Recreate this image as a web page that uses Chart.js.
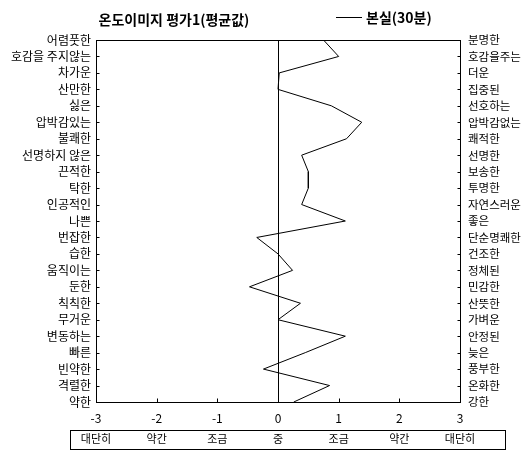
<!DOCTYPE html>
<html><head><meta charset="utf-8">
<script src="https://cdn.jsdelivr.net/npm/chart.js@4/dist/chart.umd.min.js"></script>
<style>html,body{margin:0;padding:0;background:#fff}#wrap{width:529px;height:451px}</style>
</head><body><div id="wrap"><canvas id="c" width="529" height="451"></canvas></div>
<script>
const chartTitle = '온도이미지 평가1(평균값)';
const seriesName = '본실(30분)';
const leftLabels = ['어렴풋한','호감을 주지않는','차가운','산만한','싫은','압박감있는','불쾌한','선명하지 않은','끈적한','탁한','인공적인','나쁜','번잡한','습한','움직이는','둔한','칙칙한','무거운','변동하는','빠른','빈약한','격렬한','약한'];
const rightLabels = ['분명한','호감을주는','더운','집중된','선호하는','압박감없는','쾌적한','선명한','보송한','투명한','자연스러운','좋은','단순명쾌한','건조한','정체된','민감한','산뜻한','가벼운','안정된','늦은','풍부한','온화한','강한'];
const values = [0.75,1.0,0.02,0.0,0.88,1.38,1.13,0.39,0.5,0.5,0.39,1.11,-0.35,0.0,0.24,-0.47,0.37,0.0,1.11,0.45,-0.24,0.85,0.26];
const xTicks = [-3,-2,-1,0,1,2,3];
const degreeWords = ['대단히','약간','조금','중','조금','약간','대단히'];

const FONT = '"Noto Sans CJK KR", "Noto Sans", sans-serif';

const deco = {
  id: 'deco',
  afterDraw(chart) {
    const ctx = chart.ctx, a = chart.chartArea;
    ctx.save();
    ctx.strokeStyle = '#000'; ctx.lineWidth = 1;
    const L = Math.round(a.left) + 0.5, T = Math.round(a.top) + 0.5, R = Math.round(a.right) + 0.5, B = Math.round(a.bottom) + 0.5;
    ctx.strokeRect(L, T, R - L, B - T);
    const y = chart.scales.y, x = chart.scales.x;
    ctx.beginPath();
    for (let i = 0; i < leftLabels.length; i++) {
      const py = Math.round(y.getPixelForValue(i)) + 0.5;
      ctx.moveTo(L, py); ctx.lineTo(L + 3, py);
      ctx.moveTo(R, py); ctx.lineTo(R - 3, py);
    }
    xTicks.forEach(v => {
      const px = Math.round(x.getPixelForValue(v)) + 0.5;
      ctx.moveTo(px, B); ctx.lineTo(px, B - 4);
    });
    ctx.stroke();
    ctx.strokeRect(70.5, 430.5, 435, 19);
    ctx.fillStyle = '#000';
    ctx.font = 'bold 14px ' + FONT;
    ctx.textAlign = 'center'; ctx.textBaseline = 'middle';
    ctx.fillText(chartTitle, 174, 20);
    ctx.beginPath(); ctx.moveTo(336, 17.5); ctx.lineTo(362, 17.5); ctx.stroke();
    ctx.textAlign = 'left';
    ctx.fillText(seriesName, 366, 18);
    ctx.restore();
  }
};

new Chart(document.getElementById('c'), {
  type: 'line',
  data: {
    labels: leftLabels,
    datasets: [{
      label: seriesName,
      data: values,
      borderColor: '#000',
      borderWidth: 1,
      pointRadius: 0,
      tension: 0,
      fill: false
    }]
  },
  options: {
    indexAxis: 'y',
    responsive: false,
    animation: false,
    layout: { padding: { top: 40, left: 0, right: 0, bottom: 0 } },
    plugins: { legend: { display: false }, title: { display: false }, tooltip: { enabled: false } },
    scales: {
      y: {
        type: 'category', position: 'left', offset: false,
        grid: { display: false, drawTicks: false }, border: { display: false },
        ticks: { color: '#000', font: { family: FONT, size: 12 }, padding: 5, autoSkip: false },
        afterFit(s) { s.width = 96; }
      },
      y2: {
        type: 'category', position: 'right', offset: false, labels: rightLabels,
        grid: { display: false, drawTicks: false }, border: { display: false },
        ticks: { color: '#000', font: { family: FONT, size: 11.5 }, padding: 8, autoSkip: false },
        afterFit(s) { s.width = 69; }
      },
      x: {
        type: 'linear', position: 'bottom', min: -3, max: 3,
        afterBuildTicks(s) { s.ticks = xTicks.map(v => ({ value: v })); },
        grid: { drawTicks: false, color: c => (c.tick && c.tick.value === 0) ? '#000' : 'rgba(0,0,0,0)', lineWidth: 1 },
        border: { display: false },
        ticks: { color: '#000', font: { family: FONT, size: 12 }, padding: 9 },
        afterFit(s) { s.height = 25; }
      },
      x2: {
        type: 'linear', position: 'bottom', min: -3, max: 3,
        afterBuildTicks(s) { s.ticks = xTicks.map(v => ({ value: v })); },
        grid: { display: false, drawTicks: false }, border: { display: false },
        ticks: { color: '#000', font: { family: FONT, size: 11 }, padding: 5,
          callback: (v) => degreeWords[xTicks.indexOf(v)] },
        afterFit(s) { s.height = 24; }
      }
    }
  },
  plugins: [deco]
});
</script>
</body></html>
